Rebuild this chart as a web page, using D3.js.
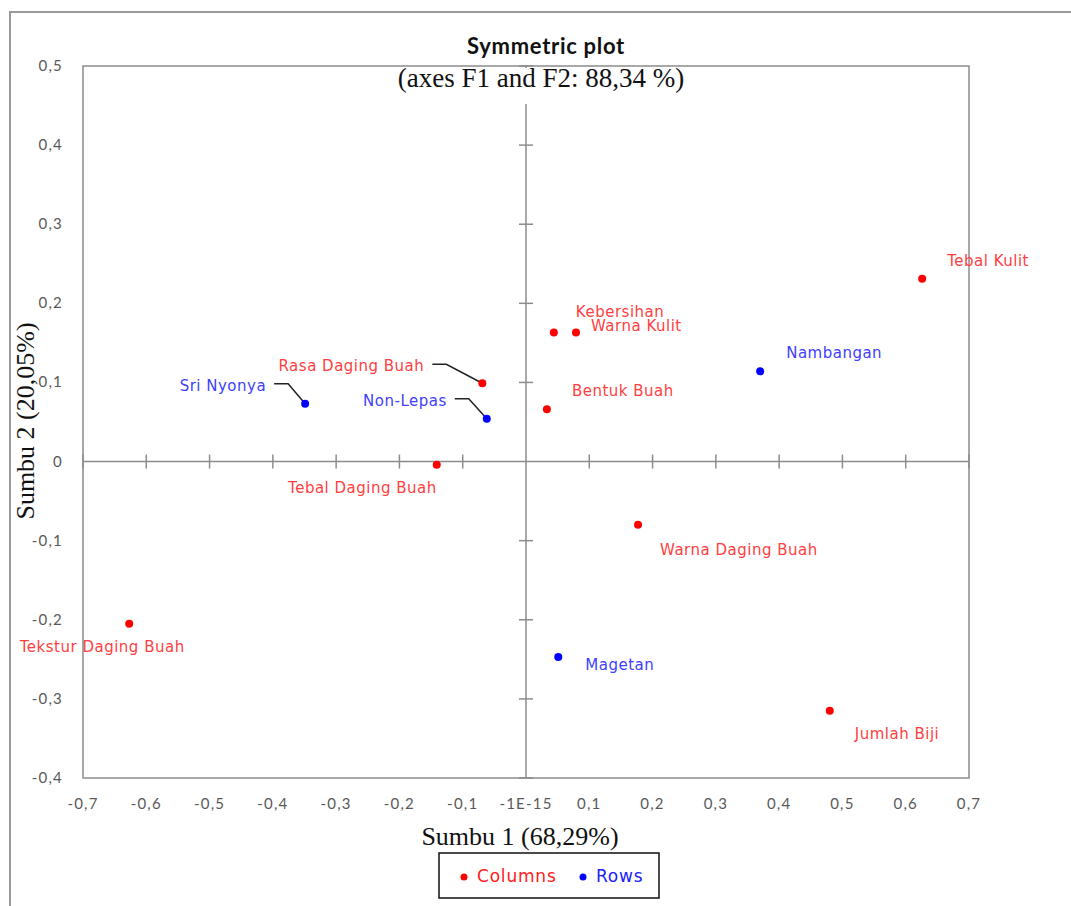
<!DOCTYPE html>
<html lang="en">
<head>
<meta charset="utf-8">
<title>Symmetric plot</title>
<script src="https://cdn.jsdelivr.net/npm/d3@7"></script>
<style>
  body { margin: 0; background: #fff; }
  .tick-label { font-family: Lato, sans-serif; font-size: 15px; letter-spacing: 1.2px; fill: #595959; }
  .pt-label { font-family: "DejaVu Sans", sans-serif; font-size: 15px; letter-spacing: 0.5px; }
  .serif { font-family: "Liberation Serif", serif; font-size: 26px; fill: #111; }
</style>
</head>
<body>
<script>
// column points (red)
var colNames = ["Tebal Kulit", "Kebersihan", "Warna Kulit", "Bentuk Buah", "Rasa Daging Buah",
                "Tebal Daging Buah", "Warna Daging Buah", "Tekstur Daging Buah", "Jumlah Biji"];
var colF1 = [0.626, 0.044, 0.079, 0.033, -0.069, -0.141, 0.177, -0.627, 0.480];
var colF2 = [0.231, 0.163, 0.163, 0.066, 0.099, -0.004, -0.080, -0.205, -0.315];

// row points (blue)
var rowNames = ["Nambangan", "Sri Nyonya", "Non-Lepas", "Magetan"];
var rowF1 = [0.370, -0.349, -0.062, 0.051];
var rowF2 = [0.114, 0.073, 0.054, -0.247];

var xTicks = [-0.7, -0.6, -0.5, -0.4, -0.3, -0.2, -0.1, 0, 0.1, 0.2, 0.3, 0.4, 0.5, 0.6, 0.7];
var xTickLabels = ["-0,7", "-0,6", "-0,5", "-0,4", "-0,3", "-0,2", "-0,1", "-1E-15",
                   "0,1", "0,2", "0,3", "0,4", "0,5", "0,6", "0,7"];
var yTicks = [0.5, 0.4, 0.3, 0.2, 0.1, 0, -0.1, -0.2, -0.3, -0.4];
var yTickLabels = ["0,5", "0,4", "0,3", "0,2", "0,1", "0", "-0,1", "-0,2", "-0,3", "-0,4"];

// label placement, pixels relative to the point
var labelPos = {
  "Tebal Kulit": [25, -13, "start"],
  "Kebersihan": [22, -16, "start"],
  "Warna Kulit": [15, -2, "start"],
  "Bentuk Buah": [25, -13, "start"],
  "Rasa Daging Buah": [-58, -12, "end", true],
  "Tebal Daging Buah": [0, 28, "end"],
  "Warna Daging Buah": [22, 30, "start"],
  "Tekstur Daging Buah": [-27, 28, "middle"],
  "Jumlah Biji": [25, 28, "start"],
  "Nambangan": [26, -13, "start"],
  "Sri Nyonya": [-39, -13, "end", true],
  "Non-Lepas": [-40, -13, "end", true],
  "Magetan": [27, 13, "start"]
};

var W = 1071, H = 906;
var plotL = 83, plotR = 969, plotT = 66, plotB = 778;

var svg = d3.select("body").append("svg")
  .attr("width", W).attr("height", H);

// outer frame
svg.append("path")
  .attr("d", "M10," + H + "V12H" + W)
  .attr("fill", "none").attr("stroke", "#9a9a9a").attr("stroke-width", 2);

var x = d3.scaleLinear().domain([-0.7, 0.7]).range([plotL, plotR]);
var y = d3.scaleLinear().domain([-0.4, 0.5]).range([plotB, plotT]);

svg.append("rect")
  .attr("x", plotL).attr("y", plotT)
  .attr("width", plotR - plotL).attr("height", plotB - plotT)
  .attr("fill", "none").attr("stroke", "#8c8c8c").attr("stroke-width", 1.5);

// axes through the origin
svg.append("line")
  .attr("x1", plotL).attr("x2", plotR).attr("y1", y(0)).attr("y2", y(0))
  .attr("stroke", "#8c8c8c").attr("stroke-width", 1.5);
svg.append("line")
  .attr("x1", x(0)).attr("x2", x(0)).attr("y1", plotT).attr("y2", plotB)
  .attr("stroke", "#8c8c8c").attr("stroke-width", 1.5);

svg.selectAll("line.xt")
  .data(xTicks.filter(function(d) { return d !== 0; }))
  .enter().append("line")
  .attr("class", "xt")
  .attr("x1", function(d) { return x(d); }).attr("x2", function(d) { return x(d); })
  .attr("y1", y(0) - 7).attr("y2", y(0) + 7)
  .attr("stroke", "#8c8c8c").attr("stroke-width", 1.5);

svg.selectAll("line.yt")
  .data(yTicks.filter(function(d) { return d !== 0; }))
  .enter().append("line")
  .attr("class", "yt")
  .attr("x1", x(0) - 7).attr("x2", x(0) + 7)
  .attr("y1", function(d) { return y(d); }).attr("y2", function(d) { return y(d); })
  .attr("stroke", "#8c8c8c").attr("stroke-width", 1.5);

// tick labels outside the frame
svg.selectAll("text.xl")
  .data(xTicks)
  .enter().append("text")
  .attr("class", "xl tick-label")
  .attr("x", function(d) { return x(d); })
  .attr("y", plotB + 31)
  .attr("text-anchor", "middle")
  .text(function(d, i) { return xTickLabels[i]; });

svg.selectAll("text.yl")
  .data(yTicks)
  .enter().append("text")
  .attr("class", "yl tick-label")
  .attr("x", plotL - 20)
  .attr("y", function(d) { return y(d) + 5; })
  .attr("text-anchor", "end")
  .text(function(d, i) { return yTickLabels[i]; });

// titles
svg.append("text")
  .attr("x", 546).attr("y", 54)
  .attr("text-anchor", "middle")
  .style("font-family", "Lato, sans-serif").style("font-weight", "bold")
  .style("font-size", "22px").style("letter-spacing", "0.7px").attr("fill", "#111")
  .text("Symmetric plot");

svg.append("rect")
  .attr("x", 393).attr("y", 68).attr("width", 308).attr("height", 36)
  .attr("fill", "#fff");
svg.append("text")
  .attr("class", "serif")
  .attr("x", 541).attr("y", 87)
  .style("font-size", "27px")
  .attr("text-anchor", "middle")
  .text("(axes F1 and F2: 88,34 %)");

svg.append("text")
  .attr("class", "serif")
  .attr("x", 520).attr("y", 845)
  .attr("text-anchor", "middle")
  .text("Sumbu 1 (68,29%)");

svg.append("text")
  .attr("class", "serif")
  .attr("transform", "translate(34,421) rotate(-90)")
  .attr("text-anchor", "middle")
  .text("Sumbu 2 (20,05%)");

// points
function drawSet(names, f1, f2, dotColor, textColor) {
  var g = svg.append("g");
  names.forEach(function(name, i) {
    var px = x(f1[i]), py = y(f2[i]);
    var p = labelPos[name];
    var lx = px + p[0], ly = py + p[1];
    if (p[3]) {
      g.append("polyline")
        .attr("points", [[lx + 8, ly - 7], [lx + 22, ly - 7], [px, py]].join(" "))
        .attr("fill", "none").attr("stroke", "#222").attr("stroke-width", 1.5);
    }
    g.append("circle")
      .attr("cx", px).attr("cy", py).attr("r", 4)
      .attr("fill", dotColor);
    g.append("text")
      .attr("class", "pt-label")
      .attr("x", lx).attr("y", ly)
      .attr("text-anchor", p[2])
      .attr("fill", textColor)
      .text(name);
  });
}
drawSet(colNames, colF1, colF2, "#ff0000", "#ff4040");
drawSet(rowNames, rowF1, rowF2, "#0000ff", "#4040ff");

// legend
var leg = svg.append("g");
leg.append("rect")
  .attr("x", 439).attr("y", 853).attr("width", 220).attr("height", 45)
  .attr("fill", "#fff").attr("stroke", "#111").attr("stroke-width", 1.5);
var legItems = [["Columns", "#ff0000", "#ff2020", 464], ["Rows", "#0000ff", "#2020ff", 583]];
legItems.forEach(function(d) {
  leg.append("circle").attr("cx", d[3]).attr("cy", 877).attr("r", 3.5).attr("fill", d[1]);
  leg.append("text")
    .attr("x", d[3] + 13).attr("y", 882)
    .style("font-family", "DejaVu Sans, sans-serif").style("font-size", "17px")
    .style("letter-spacing", "0.8px")
    .attr("fill", d[2])
    .text(d[0]);
});
</script>
</body>
</html>
